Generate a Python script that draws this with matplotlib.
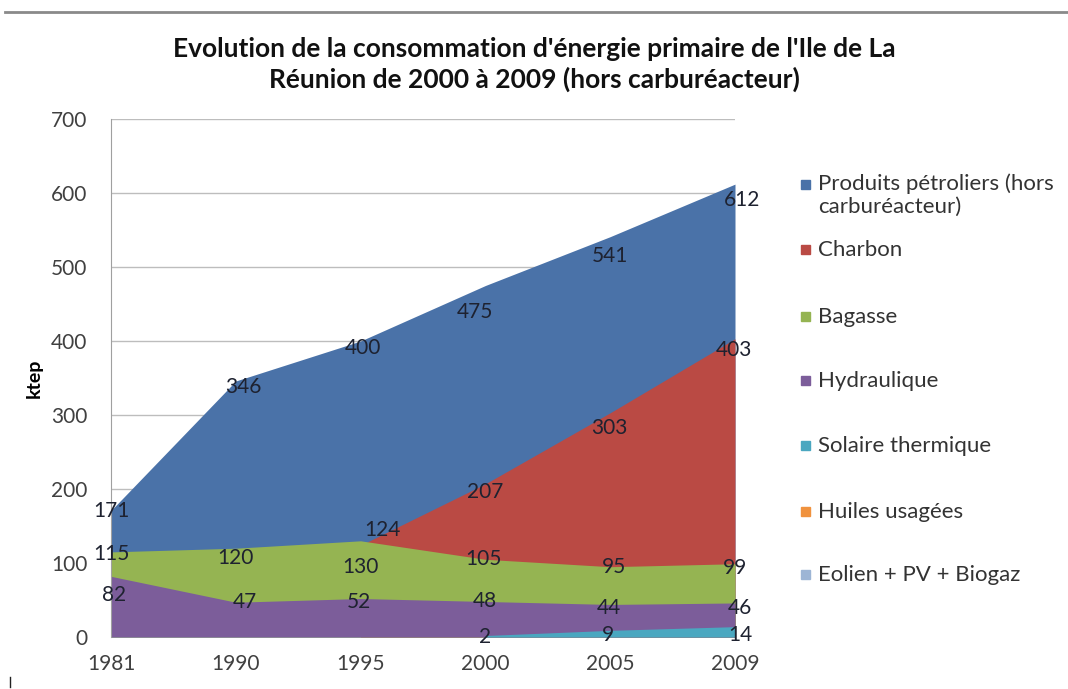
import matplotlib
matplotlib.use("Agg")
import matplotlib.pyplot as plt
from matplotlib.patches import Rectangle
from matplotlib.lines import Line2D
import numpy as np

nan = np.nan

# categories (equally spaced, Excel category axis)
years = ["1981", "1990", "1995", "2000", "2005", "2009"]

# cumulative values as plotted (overlapping areas, back to front)
petrole = [171, 346, 400, 475, 541, 612]
charbon = [nan, nan, 124, 207, 303, 403]
bagasse = [115, 120, 130, 105, 95, 99]
hydraulique = [82, 47, 52, 48, 44, 46]
solaire = [nan, nan, nan, 2, 9, 14]
huiles = [nan, nan, nan, nan, nan, nan]
eolien = [nan, nan, nan, nan, nan, nan]

names = ["Produits pétroliers (hors\ncarburéacteur)", "Charbon", "Bagasse",
         "Hydraulique", "Solaire thermique", "Huiles usagées", "Eolien + PV + Biogaz"]
colors = ["#4A72A8", "#BA4A44", "#95B452", "#7C5D9A", "#4AA7C0", "#F0923E", "#9DB5D5"]
series = [petrole, charbon, bagasse, hydraulique, solaire, huiles, eolien]

# label nudges in pixels (dx, dy), as placed in the original chart
nudges = [
    [(0, -1), (8, -6), (2, -7), (-10, -26), (0, -19), (7, -16)],
    [None, None, (22, 15), (0, -8), (-1, -15), (-1, -11)],
    [(0, -2), (0, -10), (0, -26), (-2, 0), (4, 0), (0, -4)],
    [(3, -19), (9, 0), (-2, -3), (-1, 0), (-1, -4), (5, -5)],
    [None, None, None, (0, -1), (-2, -5), (5, -8)],
    [None] * 6,
    [None] * 6,
]

plt.rcParams['font.family'] = ['Lato', 'DejaVu Sans']

fig = plt.figure(figsize=(10.68, 6.89), dpi=100)
ax = fig.add_axes([111 / 1068, 1 - 637 / 689, 624 / 1068, 518 / 689])

x = np.arange(len(years))
for vals, col in zip(series, colors):
    v = np.array(vals, dtype=float)
    if np.all(np.isnan(v)):
        continue
    ax.fill_between(x, 0, v, color=col, linewidth=0, zorder=2)

for vals, offs in zip(series, nudges):
    for i, v in enumerate(vals):
        if np.isnan(v) or offs[i] is None:
            continue
        ax.annotate(f"{int(v)}", (x[i], v), xytext=offs[i], textcoords="offset pixels",
                    ha="center", va="center", fontsize=15, color="#1E2230", zorder=5,
                    annotation_clip=False)

ax.set_xlim(0, len(years) - 1)
ax.set_ylim(0, 700)
ax.set_yticks(range(0, 701, 100))
ax.set_xticks(x)
ax.set_xticklabels(years)
ax.yaxis.grid(True, color="#BDBDBD", linewidth=1)
ax.set_axisbelow(True)
ax.tick_params(axis="both", length=0, labelsize=15, labelcolor="#404040")
ax.tick_params(axis="y", pad=17)
ax.tick_params(axis="x", pad=12)
for s in ["top", "right", "bottom"]:
    ax.spines[s].set_visible(False)
ax.spines["left"].set_color("#A0A0A0")
ax.set_ylabel("ktep", fontsize=14, fontweight="bold", labelpad=6)

fig.text(534 / 1068, 1 - 49 / 689, "Evolution de la consommation d'énergie primaire de l'Ile de La",
         ha="center", va="center", fontsize=19, fontweight="bold", color="#111111")
fig.text(534 / 1068, 1 - 79 / 689, "Réunion de 2000 à 2009 (hors carburéacteur)",
         ha="center", va="center", fontsize=19, fontweight="bold", color="#111111")

# legend drawn by hand
leg_y = [185, 250, 317, 381, 446, 512, 575]
for name, col, ly in zip(names, colors, leg_y):
    fig.patches.append(Rectangle((801 / 1068, (689 - ly - 4) / 689), 9 / 1068, 9 / 689,
                                 transform=fig.transFigure, color=col))
    if "\n" in name:
        fig.text(818 / 1068, (689 - ly + 12) / 689, name, ha="left", va="top",
                 fontsize=16, color="#333333", linespacing=1.2)
    else:
        fig.text(818 / 1068, (689 - ly) / 689, name, ha="left", va="center",
                 fontsize=16, color="#333333")

# frame line at the top of the screenshot
fig.lines.append(Line2D([5 / 1068, 1], [1 - 12 / 689, 1 - 12 / 689], transform=fig.transFigure,
                        color="#8A8A8A", linewidth=2))
fig.lines.append(Line2D([10 / 1068, 10 / 1068], [0.003, 12 / 689], transform=fig.transFigure,
                        color="#222222", linewidth=1))

fig.savefig("out.png", dpi=100)
